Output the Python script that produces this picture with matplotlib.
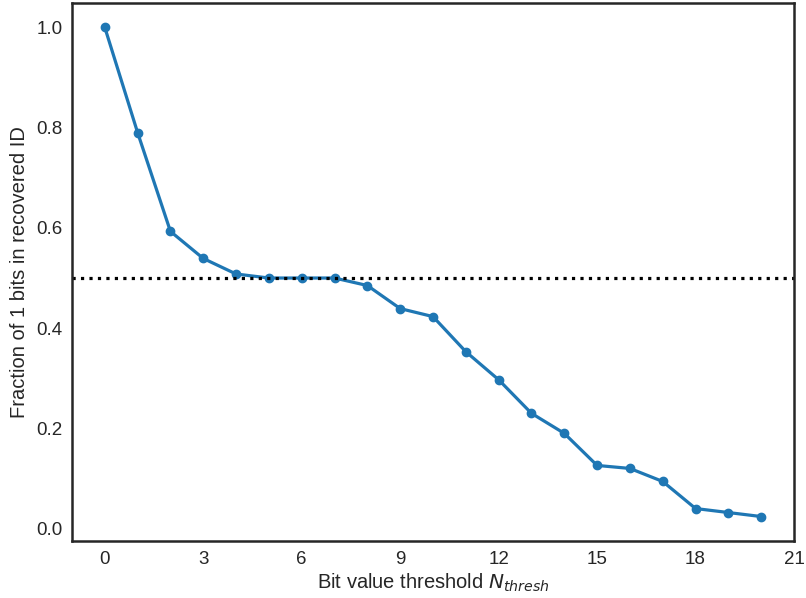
import matplotlib
matplotlib.use("Agg")
import matplotlib.pyplot as plt
import numpy as np

thresholds = list(range(21))
fraction_ones = [1.0, 0.790, 0.593, 0.539, 0.508, 0.500, 0.500, 0.500, 0.485, 0.439,
                 0.423, 0.353, 0.297, 0.230, 0.190, 0.126, 0.120, 0.094, 0.040, 0.032, 0.024]
xticks = [0, 3, 6, 9, 12, 15, 18, 21]
yticks = [0.0, 0.2, 0.4, 0.6, 0.8, 1.0]

plt.rcParams['font.family'] = ['Liberation Sans', 'DejaVu Sans']
plt.rcParams['mathtext.fontset'] = 'dejavusans'
text_color = '#262626'

fig = plt.figure(figsize=(8.06, 5.98), dpi=100)
ax = fig.add_axes([72/806, 1-541/598, (794-72)/806, (541-3)/598])

ax.plot(thresholds, fraction_ones, '-o', color='#1f77b4', lw=2.3, ms=6)
ax.axhline(0.5, color='black', ls=':', lw=2.3)

ax.set_xlim(-1, 21)
ax.margins(y=0.05)
ax.set_xticks(xticks)
ax.set_yticks(yticks)
ax.set_yticklabels([f"{v:.1f}" for v in yticks])
ax.tick_params(length=0, labelsize=13.5, colors=text_color, pad=7)
ax.set_xlabel(r'Bit value threshold $N_{thresh}$', fontsize=14.5, color=text_color, labelpad=3)
ax.set_ylabel('Fraction of 1 bits in recovered ID', fontsize=14.5, color=text_color, labelpad=5)
for s in ax.spines.values():
    s.set_color('#262626')
    s.set_linewidth(1.8)

fig.savefig('out.png', dpi=100)
